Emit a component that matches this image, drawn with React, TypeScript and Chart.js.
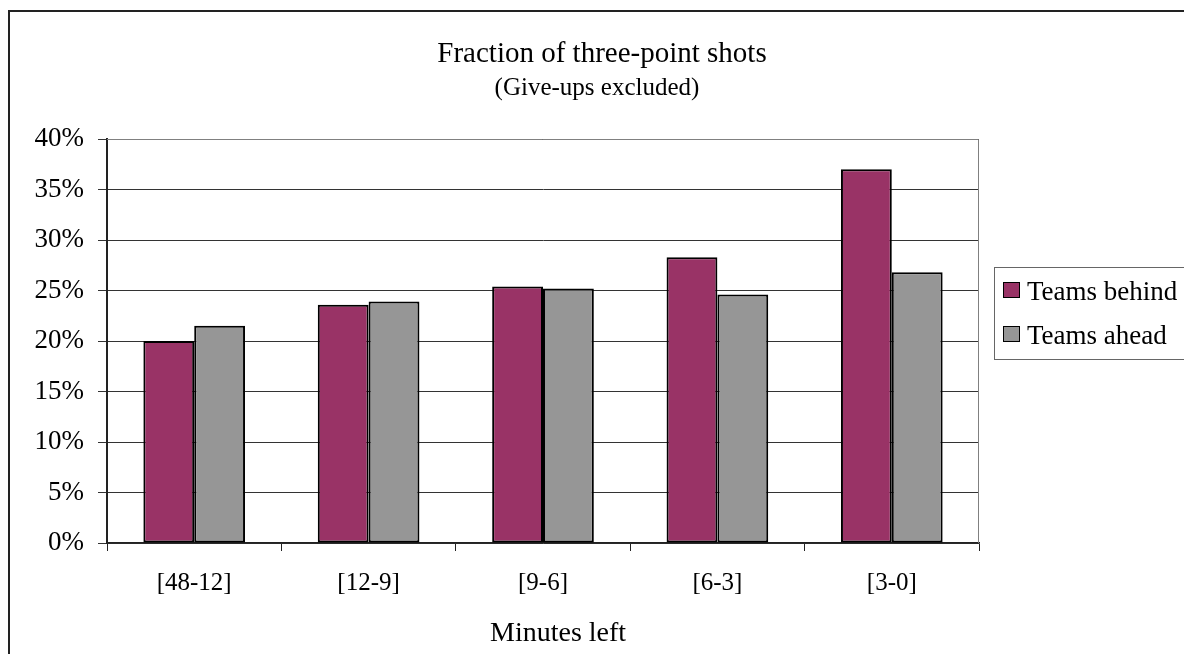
import React, { useEffect, useRef } from "react";
import { Chart, registerables } from "chart.js";

Chart.register(...registerables);

const categories = ["[48-12]", "[12-9]", "[9-6]", "[6-3]", "[3-0]"];
const teamsBehind = [20.0, 23.6, 25.4, 28.3, 37.0];
const teamsAhead = [21.5, 23.9, 25.2, 24.6, 26.8];
const seriesLabels = ["Teams behind", "Teams ahead"];
const seriesColors = ["#993366", "#969696"];
const titleText = "Fraction of three-point shots";
const subtitleText = "(Give-ups excluded)";
const xAxisTitle = "Minutes left";

const FONT = "'Liberation Serif', 'Times New Roman', serif";

const decorPlugin = {
  id: "decor",
  beforeDatasetsDraw(chart: any) {
    const { ctx, chartArea: a } = chart;
    ctx.save();
    ctx.strokeStyle = "#808080";
    ctx.lineWidth = 1;
    ctx.beginPath();
    ctx.moveTo(a.left, Math.round(a.top) + 0.5);
    ctx.lineTo(Math.round(a.right) - 0.5, Math.round(a.top) + 0.5);
    ctx.lineTo(Math.round(a.right) - 0.5, a.bottom);
    ctx.stroke();
    ctx.restore();
  },
  afterDraw(chart: any) {
    const { ctx } = chart;
    ctx.save();
    // outer chart border
    ctx.strokeStyle = "#222";
    ctx.lineWidth = 2;
    ctx.strokeRect(9, 11, 2000, 2000);

    // titles
    ctx.fillStyle = "#000";
    ctx.textAlign = "center";
    ctx.textBaseline = "alphabetic";
    ctx.font = `29px ${FONT}`;
    ctx.fillText(titleText, 602, 62);
    ctx.font = `25px ${FONT}`;
    ctx.fillText(subtitleText, 597, 95);

    // x-axis title
    ctx.font = `28px ${FONT}`;
    ctx.textAlign = "left";
    ctx.fillText(xAxisTitle, 490, 641);

    // legend
    ctx.strokeStyle = "#666";
    ctx.lineWidth = 1;
    ctx.strokeRect(994.5, 267.5, 400, 92);
    ctx.font = `27px ${FONT}`;
    chart.data.datasets.forEach((ds: any, i: number) => {
      const y = 282 + i * 44;
      ctx.fillStyle = ds.backgroundColor;
      ctx.fillRect(1003, y, 17, 16);
      ctx.strokeStyle = "#000";
      ctx.lineWidth = 1;
      ctx.strokeRect(1003.5, y + 0.5, 16, 15);
      ctx.fillStyle = "#000";
      ctx.textAlign = "left";
      ctx.fillText(ds.label, 1027, y + 18);
    });
    ctx.restore();
  },
};

export default function App() {
  const canvasRef = useRef<HTMLCanvasElement | null>(null);

  useEffect(() => {
    if (!canvasRef.current) return;
    const chart = new Chart(canvasRef.current, {
      type: "bar",
      data: {
        labels: categories,
        datasets: [
          {
            label: seriesLabels[0],
            data: teamsBehind,
            backgroundColor: seriesColors[0],
            borderColor: "#000",
            borderWidth: 2,
            borderSkipped: false,
            barPercentage: 1.0,
            categoryPercentage: 0.583,
          },
          {
            label: seriesLabels[1],
            data: teamsAhead,
            backgroundColor: seriesColors[1],
            borderColor: "#000",
            borderWidth: 2,
            borderSkipped: false,
            barPercentage: 1.0,
            categoryPercentage: 0.583,
          },
        ],
      },
      options: {
        animation: false,
        responsive: false,
        layout: { padding: { left: 0, top: 139, right: 205, bottom: 0 } },
        plugins: {
          legend: { display: false },
          title: { display: false },
          tooltip: { enabled: false },
        },
        scales: {
          x: {
            afterFit(s: any) {
              s.height = 111;
            },
            ticks: {
              color: "#000",
              font: { family: FONT, size: 25 },
              padding: 17,
            },
            grid: {
              offset: true,
              drawOnChartArea: false,
              drawTicks: true,
              tickLength: 8,
              color: "#222",
            },
            border: { display: true, color: "#222", width: 1.5 },
          },
          y: {
            min: 0,
            max: 40,
            afterFit(s: any) {
              s.width = 107;
            },
            ticks: {
              stepSize: 5,
              color: "#000",
              font: { family: FONT, size: 27 },
              padding: 14,
              callback: (v: any) => `${v}%`,
            },
            grid: {
              color: "#333",
              lineWidth: 1,
              drawTicks: true,
              tickLength: 9,
            },
            border: { display: true, color: "#222", width: 2 },
          },
        },
      },
      plugins: [decorPlugin],
    } as any);
    return () => chart.destroy();
  }, []);

  return (
    <div
      style={{
        position: "absolute",
        left: 0,
        top: 0,
        width: 1184,
        height: 654,
        background: "#fff",
        overflow: "hidden",
      }}
    >
      <canvas ref={canvasRef} width={1184} height={654} style={{ display: "block" }} />
    </div>
  );
}
